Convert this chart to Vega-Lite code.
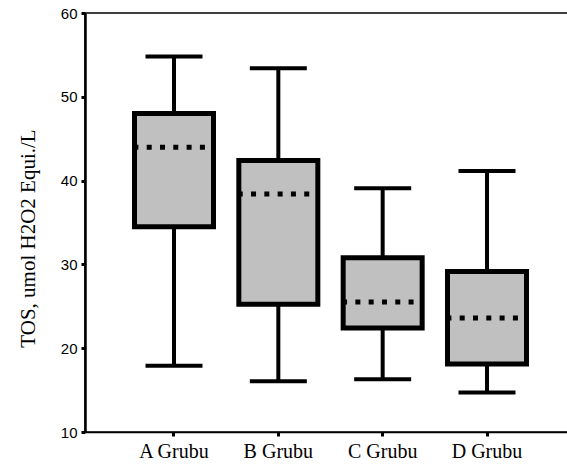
{
  "$schema": "https://vega.github.io/schema/vega-lite/v6.json",
  "autosize": "none",
  "width": 491,
  "height": 419,
  "padding": {"left": 85, "top": 13, "right": 0, "bottom": 32},
  "background": "white",
  "config": {
    "view": {"stroke": "black", "strokeWidth": 1.5},
    "axis": {"grid": false, "domainColor": "black", "tickColor": "black", "labelColor": "black", "titleColor": "black"}
  },
  "data": {
    "values": [
      {"group": "A Grubu", "min": 17.9, "q1": 34.5, "median": 43.97, "q3": 48.0, "max": 54.8},
      {"group": "B Grubu", "min": 16.05, "q1": 25.25, "median": 38.4, "q3": 42.4, "max": 53.4},
      {"group": "C Grubu", "min": 16.3, "q1": 22.4, "median": 25.5, "q3": 30.8, "max": 39.1},
      {"group": "D Grubu", "min": 14.7, "q1": 18.1, "median": 23.6, "q3": 29.15, "max": 41.15}
    ]
  },
  "encoding": {
    "x": {
      "field": "group", "type": "nominal",
      "scale": {"paddingInner": 0, "paddingOuter": 0.353},
      "axis": {
        "title": null, "labelAngle": 0, "labelFont": "Liberation Serif", "labelFontSize": 20,
        "labelPadding": 5, "tickSize": 4, "tickWidth": 3, "domainWidth": 1.5
      }
    }
  },
  "layer": [
    {
      "mark": {"type": "rule", "strokeWidth": 4, "color": "black"},
      "encoding": {
        "y": {
          "field": "min", "type": "quantitative",
          "scale": {"domain": [10, 60], "nice": false, "zero": false},
          "axis": {
            "title": "TOS, umol H2O2 Equi./L", "titleFont": "Liberation Serif", "titleFontSize": 21,
            "titleFontWeight": "normal", "titlePadding": 22, "titleY": 225,
            "values": [10, 20, 30, 40, 50, 60],
            "labelFont": "Liberation Sans", "labelFontSize": 15, "labelPadding": 4,
            "tickSize": 4, "tickWidth": 3, "domainWidth": 2.5
          }
        },
        "y2": {"field": "max"}
      }
    },
    {
      "mark": {"type": "tick", "size": 57, "thickness": 4, "color": "black", "opacity": 1},
      "encoding": {"y": {"field": "min", "type": "quantitative"}}
    },
    {
      "mark": {"type": "tick", "size": 57, "thickness": 4, "color": "black", "opacity": 1},
      "encoding": {"y": {"field": "max", "type": "quantitative"}}
    },
    {
      "mark": {"type": "bar", "width": 79, "fill": "#c0c0c0", "stroke": "black", "strokeWidth": 5},
      "encoding": {
        "y": {"field": "q1", "type": "quantitative"},
        "y2": {"field": "q3"}
      }
    },
    {
      "mark": {"type": "rule", "strokeWidth": 5, "color": "black", "strokeDash": [5, 8.3], "strokeCap": "butt", "xOffset": -40.6, "x2Offset": 37},
      "encoding": {
        "x2": {"field": "group"},
        "y": {"field": "median", "type": "quantitative"}
      }
    }
  ]
}
